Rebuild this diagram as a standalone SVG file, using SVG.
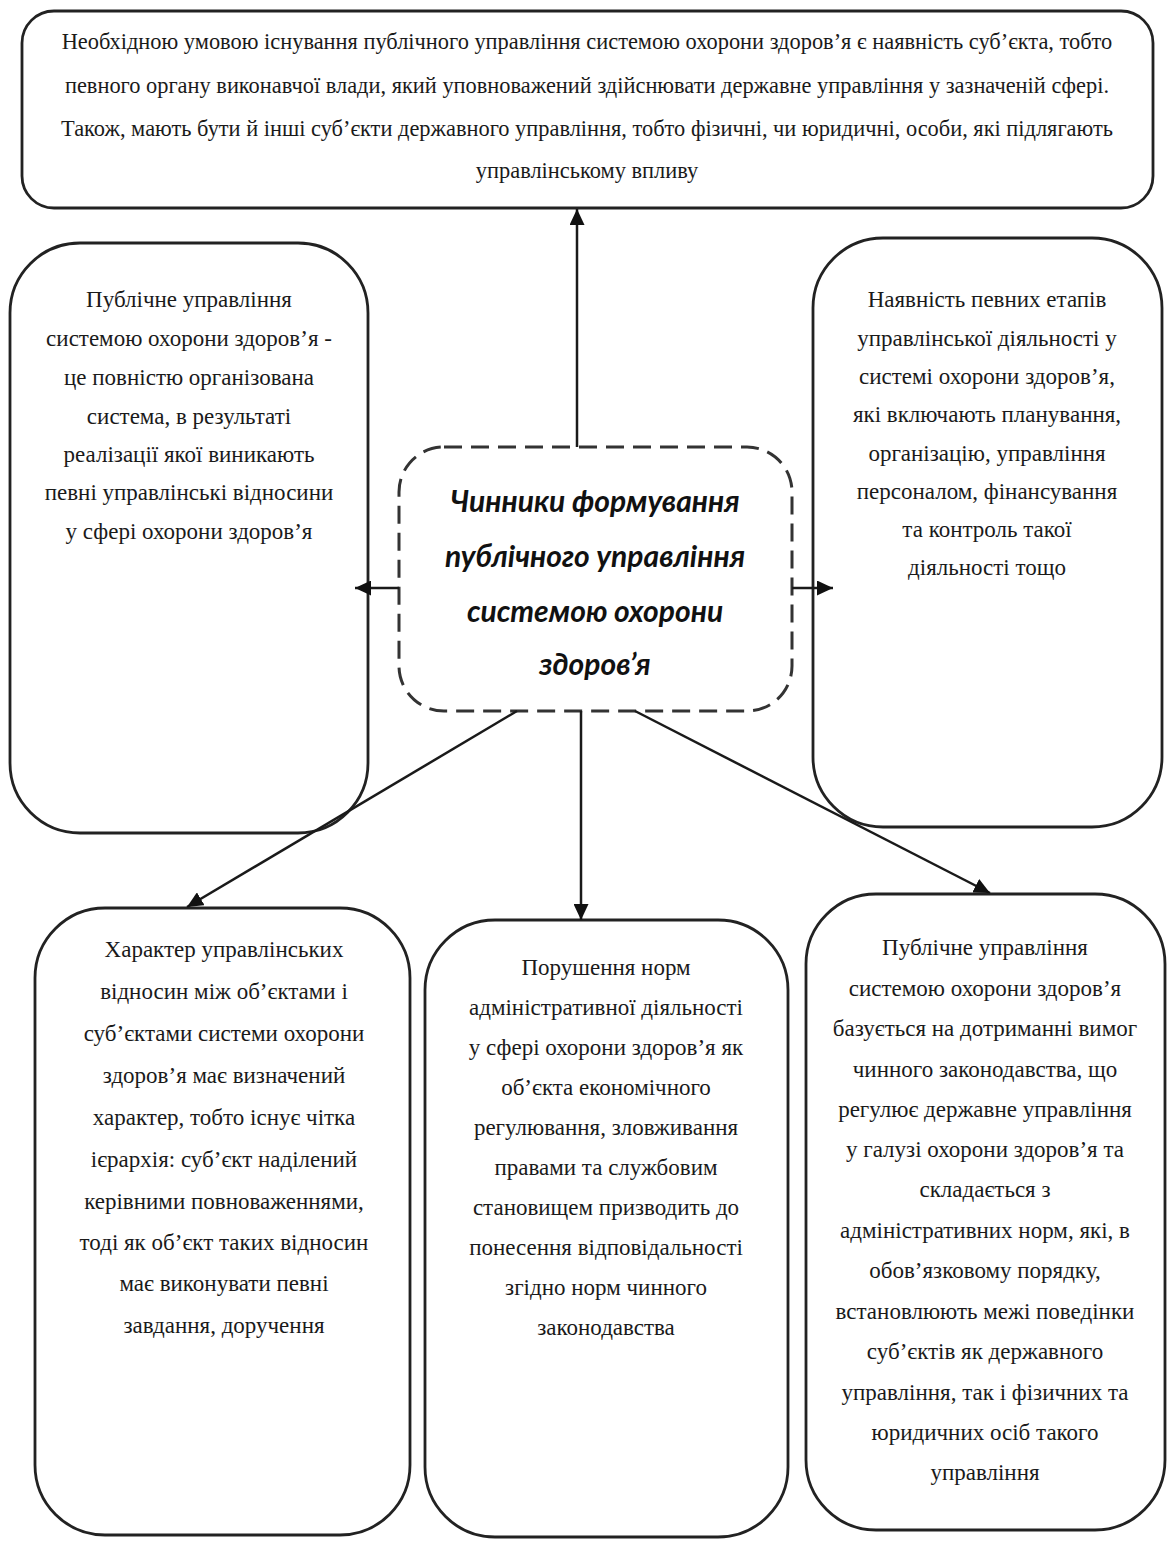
<svg xmlns="http://www.w3.org/2000/svg" width="1173" height="1543" viewBox="0 0 1173 1543">
<defs>
<style>
.box{fill:#fff;stroke:#222;stroke-width:2.8}
.dash{fill:#fff;stroke:#333;stroke-width:3;stroke-dasharray:18 9}
.t{font-family:"Liberation Serif","Times New Roman",serif;font-size:23px;fill:#1a1a1a;text-anchor:middle}
.tt{font-family:"Liberation Serif","Times New Roman",serif;font-size:22.4px;fill:#1a1a1a;text-anchor:middle}
.c{font-family:Lato,"Open Sans",sans-serif;font-size:30px;font-weight:bold;font-style:italic;fill:#111;text-anchor:middle}
.ln{stroke:#1a1a1a;stroke-width:2.5;fill:none}
</style>
<marker id="ah" markerUnits="userSpaceOnUse" markerWidth="17" markerHeight="15" refX="16" refY="7.5" orient="auto">
<path d="M0,0 L16,7.5 L0,15 Z" fill="#111"/>
</marker>
</defs>
<rect width="1173" height="1543" fill="#fff"/>

<g id="top">
<rect class="box" x="22" y="11" width="1131" height="197" rx="32" stroke-width="3.2"/>
<text class="tt" x="587" y="49">Необхідною умовою існування публічного управління системою охорони здоров’я є наявність суб’єкта, тобто</text>
<text class="tt" x="587" y="93">певного органу виконавчої влади, який уповноважений здійснювати державне управління у зазначеній сфері.</text>
<text class="tt" x="587" y="136">Також, мають бути й інші суб’єкти державного управління, тобто фізичні, чи юридичні, особи, які підлягають</text>
<text class="tt" x="587" y="178">управлінському впливу</text>
</g>

<g id="left">
<rect class="box" x="10" y="243" width="358" height="590" rx="70"/>
<text class="t" x="189" y="307">Публічне управління</text>
<text class="t" x="189" y="346">системою охорони здоров’я -</text>
<text class="t" x="189" y="385">це повністю організована</text>
<text class="t" x="189" y="424">система, в результаті</text>
<text class="t" x="189" y="462">реалізації якої виникають</text>
<text class="t" x="189" y="500">певні управлінські відносини</text>
<text class="t" x="189" y="539">у сфері охорони здоров’я</text>
</g>

<g id="center">
<rect class="dash" x="399" y="447" width="393" height="264" rx="45"/>
<text class="c" x="595" y="512">Чинники формування</text>
<text class="c" x="595" y="567">публічного управління</text>
<text class="c" x="595" y="622">системою охорони</text>
<text class="c" x="595" y="675">здоров’я</text>
</g>

<g id="right">
<rect class="box" x="813" y="238" width="349" height="589" rx="70"/>
<text class="t" x="987" y="307">Наявність певних етапів</text>
<text class="t" x="987" y="346">управлінської діяльності у</text>
<text class="t" x="987" y="384">системі охорони здоров’я,</text>
<text class="t" x="987" y="422">які включають планування,</text>
<text class="t" x="987" y="461">організацію, управління</text>
<text class="t" x="987" y="499">персоналом, фінансування</text>
<text class="t" x="987" y="537">та контроль такої</text>
<text class="t" x="987" y="575">діяльності тощо</text>
</g>

<g id="bottom-left">
<rect class="box" x="35" y="908" width="375" height="627" rx="70"/>
<text class="t" x="224" y="957">Характер управлінських</text>
<text class="t" x="224" y="999">відносин між об’єктами і</text>
<text class="t" x="224" y="1041">суб’єктами системи охорони</text>
<text class="t" x="224" y="1083">здоров’я  має визначений</text>
<text class="t" x="224" y="1125">характер, тобто існує чітка</text>
<text class="t" x="224" y="1167">ієрархія: суб’єкт наділений</text>
<text class="t" x="224" y="1209">керівними повноваженнями,</text>
<text class="t" x="224" y="1250">тоді як об’єкт таких відносин</text>
<text class="t" x="224" y="1291">має виконувати певні</text>
<text class="t" x="224" y="1333">завдання, доручення</text>
</g>

<g id="bottom-middle">
<rect class="box" x="425" y="920" width="363" height="617" rx="70"/>
<text class="t" x="606" y="975">Порушення норм</text>
<text class="t" x="606" y="1015">адміністративної діяльності</text>
<text class="t" x="606" y="1055">у сфері охорони здоров’я як</text>
<text class="t" x="606" y="1095">об’єкта економічного</text>
<text class="t" x="606" y="1135">регулювання, зловживання</text>
<text class="t" x="606" y="1175">правами та службовим</text>
<text class="t" x="606" y="1215">становищем призводить до</text>
<text class="t" x="606" y="1255">понесення відповідальності</text>
<text class="t" x="606" y="1295">згідно норм чинного</text>
<text class="t" x="606" y="1335">законодавства</text>
</g>

<g id="bottom-right">
<rect class="box" x="806" y="894" width="359" height="636" rx="70"/>
<text class="t" x="985" y="955">Публічне управління</text>
<text class="t" x="985" y="996">системою охорони здоров’я</text>
<text class="t" x="985" y="1036">базується на дотриманні вимог</text>
<text class="t" x="985" y="1077">чинного законодавства, що</text>
<text class="t" x="985" y="1117">регулює державне управління</text>
<text class="t" x="985" y="1157">у галузі охорони здоров’я та</text>
<text class="t" x="985" y="1197">складається з</text>
<text class="t" x="985" y="1238">адміністративних норм, які, в</text>
<text class="t" x="985" y="1278">обов’язковому порядку,</text>
<text class="t" x="985" y="1319">встановлюють межі поведінки</text>
<text class="t" x="985" y="1359">суб’єктів як державного</text>
<text class="t" x="985" y="1400">управління, так і фізичних та</text>
<text class="t" x="985" y="1440">юридичних осіб такого</text>
<text class="t" x="985" y="1480">управління</text>
</g>

<g id="connectors">
<line class="ln" x1="577" y1="447" x2="577" y2="209" marker-end="url(#ah)"/>
<line class="ln" x1="399" y1="588" x2="355" y2="588" marker-end="url(#ah)"/>
<line class="ln" x1="792" y1="588" x2="833" y2="588" marker-end="url(#ah)"/>
<line class="ln" x1="517" y1="711" x2="187" y2="907" marker-end="url(#ah)"/>
<line class="ln" x1="581" y1="711" x2="581" y2="920" marker-end="url(#ah)"/>
<line class="ln" x1="635" y1="711" x2="990" y2="893" marker-end="url(#ah)"/>
</g>
</svg>
